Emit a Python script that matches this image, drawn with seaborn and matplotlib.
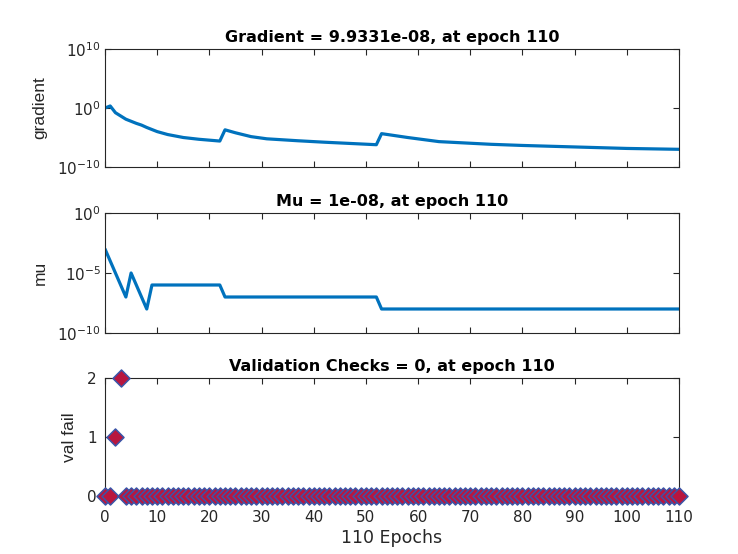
import matplotlib
matplotlib.use("Agg")
import matplotlib.pyplot as plt
import seaborn as sns
import pandas as pd

# ---------------- data ----------------
grad_epochs = [0, 1, 2, 4, 6, 7, 8, 10, 12, 15, 18, 22, 23, 25, 28, 31, 37, 42, 52,
               53, 58, 64, 74, 80, 90, 100, 110]
grad_values = [1.0, 2.2, 0.16, 1.26e-2, 2.5e-3, 1.26e-3, 5.0e-4, 1.0e-4, 3.2e-5, 1.0e-5,
               5.0e-6, 2.5e-6, 2.0e-4, 6.3e-5, 1.4e-5, 6.0e-6, 2.8e-6, 1.6e-6, 6.0e-7,
               4.5e-5, 1.0e-5, 2.0e-6, 7.0e-7, 4.5e-7, 2.5e-7, 1.4e-7, 9.9331e-8]

mu_epochs = [0, 1, 2, 3, 4, 5, 6, 7, 8, 9, 22, 23, 52, 53, 110]
mu_values = [1e-3, 1e-4, 1e-5, 1e-6, 1e-7, 1e-5, 1e-6, 1e-7, 1e-8, 1e-6, 1e-6, 1e-7,
             1e-7, 1e-8, 1e-8]

val_epochs = list(range(0, 111))
val_fail = [0, 0, 1, 2, 0, 0, 0, 0, 0, 0,
            0, 0, 0, 0, 0, 0, 0, 0, 0, 0,
            0, 0, 0, 0, 0, 0, 0, 0, 0, 0,
            0, 0, 0, 0, 0, 0, 0, 0, 0, 0,
            0, 0, 0, 0, 0, 0, 0, 0, 0, 0,
            0, 0, 0, 0, 0, 0, 0, 0, 0, 0,
            0, 0, 0, 0, 0, 0, 0, 0, 0, 0,
            0, 0, 0, 0, 0, 0, 0, 0, 0, 0,
            0, 0, 0, 0, 0, 0, 0, 0, 0, 0,
            0, 0, 0, 0, 0, 0, 0, 0, 0, 0,
            0, 0, 0, 0, 0, 0, 0, 0, 0, 0,
            0]

titles = ["Gradient = 9.9331e-08, at epoch 110",
          "Mu = 1e-08, at epoch 110",
          "Validation Checks = 0, at epoch 110"]
ylabels = ["gradient", "mu", "val fail"]
xlabel = "110 Epochs"
xticks = [0, 10, 20, 30, 40, 50, 60, 70, 80, 90, 100, 110]

# ---------------- style ----------------
sns.set_theme(style="ticks")
plt.rcParams["font.family"] = ["DejaVu Sans"]
plt.rcParams["axes.unicode_minus"] = False
plt.rcParams["mathtext.fontset"] = "custom"
plt.rcParams["mathtext.rm"] = "DejaVu Sans"

line_color = "#0072BD"
frame_color = "#262626"
text_color = "#262626"

fig = plt.figure(figsize=(7.38, 5.54), dpi=100)
W, H = 738, 554
L, R = 105, 679
boxes = [(49, 167), (213, 333), (378, 496)]
axes = []
for top, bot in boxes:
    ax = fig.add_axes([L / W, 1 - bot / H, (R - L) / W, (bot - top) / H])
    axes.append(ax)

df_g = pd.DataFrame({"epoch": grad_epochs, "gradient": grad_values})
df_m = pd.DataFrame({"epoch": mu_epochs, "mu": mu_values})
df_v = pd.DataFrame({"epoch": val_epochs, "val": val_fail})

ax1, ax2, ax3 = axes
sns.lineplot(data=df_g, x="epoch", y="gradient", ax=ax1, color=line_color, lw=2.3)
ax1.set_yscale("log")
ax1.set_ylim(1e-10, 1e10)
ax1.set_yticks([1e-10, 1e0, 1e10])

sns.lineplot(data=df_m, x="epoch", y="mu", ax=ax2, color=line_color, lw=2.3)
ax2.set_yscale("log")
ax2.set_ylim(1e-10, 1e0)
ax2.set_yticks([1e-10, 1e-5, 1e0])

sns.scatterplot(data=df_v, x="epoch", y="val", ax=ax3, marker="D", s=75,
                color="#B8163F", edgecolor="#3A55A8", linewidth=1.1,
                clip_on=False, zorder=5)
ax3.set_ylim(0, 2)
ax3.set_yticks([0, 1, 2])

for i, ax in enumerate(axes):
    ax.set_xlim(0, 110)
    ax.set_xticks(xticks)
    ax.minorticks_off()
    ax.tick_params(which="both", direction="in", top=True, right=True,
                   length=4, width=0.8, color=frame_color,
                   labelsize=11, labelcolor=text_color, pad=3)
    for sp in ax.spines.values():
        sp.set_color(frame_color)
        sp.set_linewidth(0.8)
    ax.set_title(titles[i], fontsize=11.5, fontweight="bold", pad=5, color="#000000")
    ax.set_ylabel(ylabels[i], fontsize=12.5, color=text_color, labelpad=7,
                  family="Liberation Sans")
    if i < 2:
        ax.set_xticklabels([])
        ax.set_xlabel("")
    else:
        ax.tick_params(axis="x", pad=10)
        ax.tick_params(axis="y", pad=6)
        ax.set_xlabel(xlabel, fontsize=12.5, color=text_color, labelpad=3)

fig.savefig("out.png", dpi=100)
